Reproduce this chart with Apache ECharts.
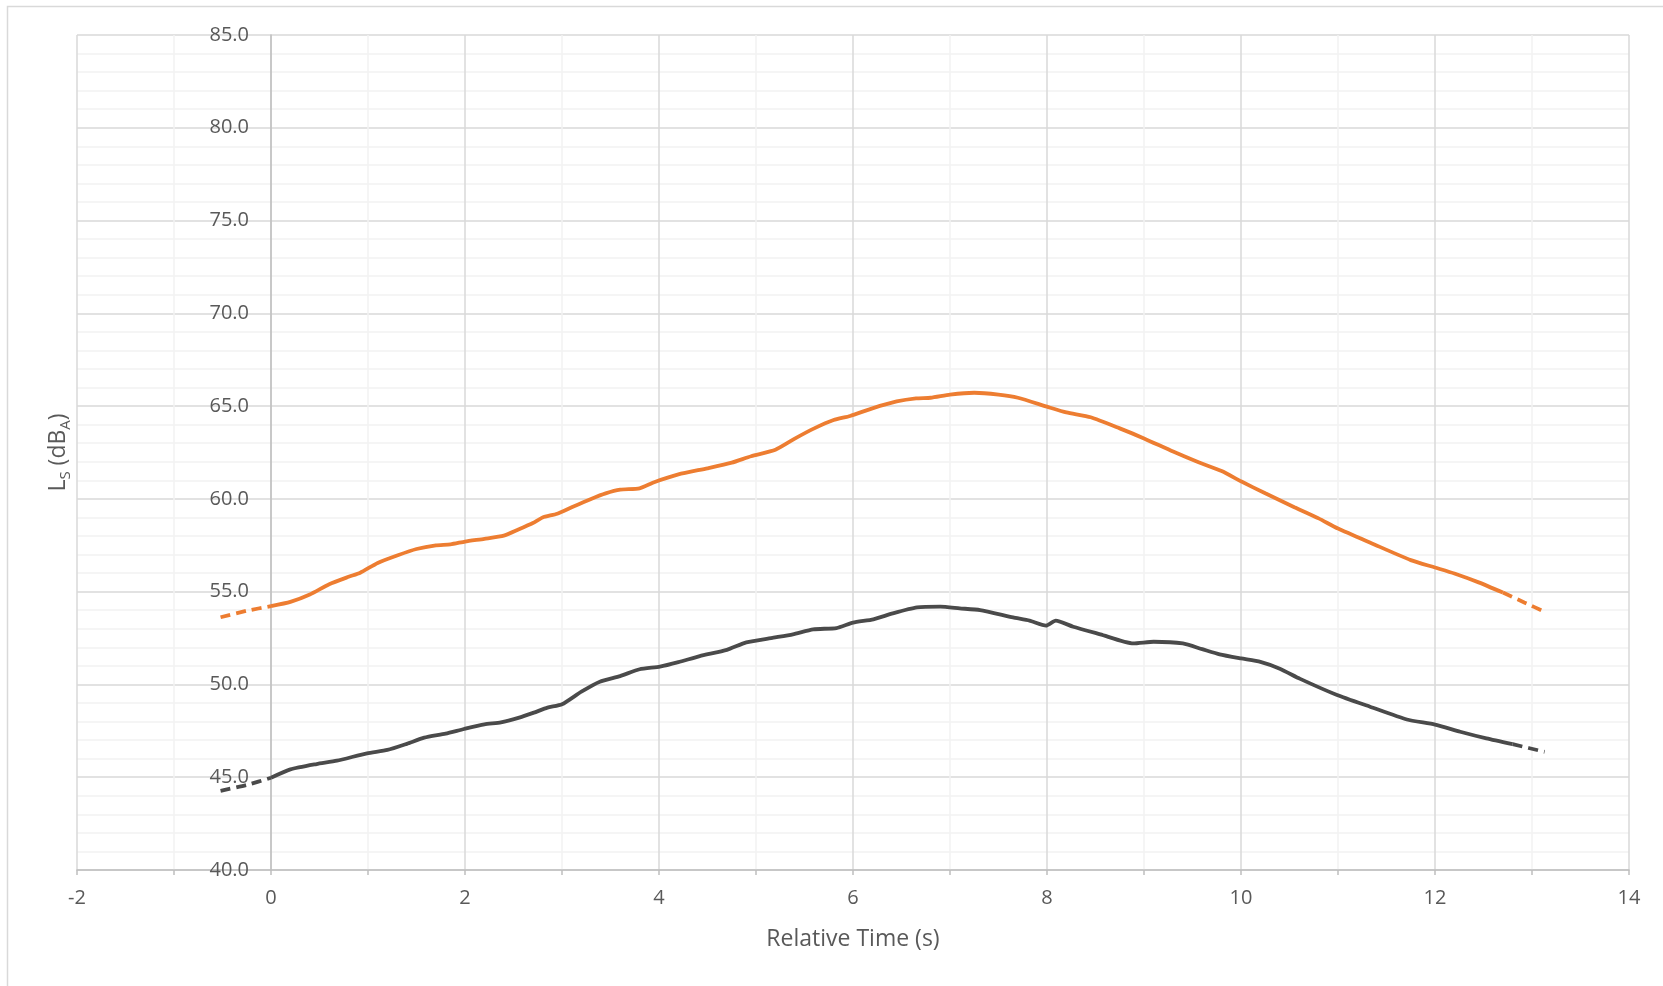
<!DOCTYPE html>
<html>
<head>
<meta charset="utf-8">
<title>Sound level vs relative time</title>
<script src="https://cdn.jsdelivr.net/npm/echarts@6/dist/echarts.min.js"></script>
<style>
  html, body { margin: 0; padding: 0; background: #ffffff; }
  #chart { width: 1663px; height: 986px; }
</style>
</head>
<body>
<div id="chart"></div>
<script>
// Upper (orange) level curve, measured part
const upperTime = [0.00, 0.20, 0.40, 0.60, 0.80, 0.92, 1.10, 1.30, 1.50, 1.70, 1.85, 2.00, 2.20, 2.40, 2.55, 2.70, 2.80, 2.95, 3.10, 3.30, 3.45, 3.60, 3.80, 3.95, 4.20, 4.50, 4.75, 4.95, 5.20, 5.40, 5.60, 5.80, 5.97, 6.20, 6.45, 6.65, 6.80, 7.00, 7.25, 7.50, 7.70, 8.00, 8.20, 8.45, 8.75, 9.00, 9.30, 9.55, 9.80, 10.00, 10.25, 10.55, 10.80, 11.00, 11.35, 11.75, 12.00, 12.20, 12.45, 12.70];
const upperLevel = [54.22, 54.45, 54.85, 55.40, 55.80, 56.02, 56.55, 56.95, 57.30, 57.50, 57.55, 57.70, 57.85, 58.02, 58.35, 58.70, 59.00, 59.20, 59.55, 60.00, 60.30, 60.50, 60.57, 60.90, 61.32, 61.65, 61.95, 62.30, 62.65, 63.25, 63.80, 64.25, 64.47, 64.88, 65.25, 65.42, 65.45, 65.62, 65.72, 65.62, 65.45, 64.97, 64.66, 64.40, 63.80, 63.26, 62.55, 62.00, 61.50, 60.95, 60.30, 59.55, 58.95, 58.40, 57.60, 56.70, 56.30, 55.98, 55.50, 54.95];
// Upper curve, extrapolated ends (null splits the two pieces)
const upperExtTime = [-0.52, -0.25, 0.00, null, 12.70, 12.92, 13.13];
const upperExtLevel = [53.62, 53.97, 54.22, null, 54.95, 54.42, 53.92];

// Lower (grey) level curve, measured part
const lowerTime = [0.00, 0.20, 0.47, 0.68, 0.99, 1.20, 1.40, 1.58, 1.80, 1.99, 2.20, 2.37, 2.55, 2.71, 2.85, 3.00, 3.20, 3.39, 3.60, 3.80, 4.01, 4.20, 4.42, 4.70, 4.90, 5.18, 5.38, 5.59, 5.83, 6.00, 6.21, 6.41, 6.66, 6.90, 7.10, 7.31, 7.65, 7.82, 7.99, 8.09, 8.27, 8.55, 8.89, 9.10, 9.40, 9.60, 9.78, 10.00, 10.20, 10.40, 10.61, 10.99, 11.33, 11.71, 12.00, 12.26, 12.53, 12.80];
const lowerLevel = [44.97, 45.42, 45.71, 45.89, 46.29, 46.47, 46.80, 47.13, 47.35, 47.60, 47.85, 47.96, 48.20, 48.48, 48.75, 48.93, 49.61, 50.15, 50.45, 50.82, 50.96, 51.20, 51.53, 51.86, 52.27, 52.52, 52.70, 52.97, 53.04, 53.33, 53.51, 53.83, 54.15, 54.19, 54.10, 54.01, 53.61, 53.44, 53.17, 53.44, 53.11, 52.70, 52.21, 52.30, 52.21, 51.90, 51.62, 51.40, 51.22, 50.85, 50.30, 49.43, 48.80, 48.11, 47.84, 47.45, 47.09, 46.78];
// Lower curve, extrapolated ends
const lowerExtTime = [-0.52, -0.25, 0.00, null, 12.80, 13.13];
const lowerExtLevel = [44.27, 44.58, 44.97, null, 46.78, 46.37];

// Axis ranges and titles
const xRange = { min: -2, max: 14, step: 2 };
const yRange = { min: 40, max: 85, step: 5 };
const xTitle = 'Relative Time (s)';
const yTitle = 'L{sub|S} (dB{sub|A})';

function pairs(xs, ys) {
  return xs.map((x, i) => (x === null ? [null, null] : [x, ys[i]]));
}

const FONT = '"Open Sans", "Liberation Sans", sans-serif';
const TEXT = '#595959';
const ORANGE = '#ED7D31';
const DARK = '#4a4a4a';
const LINE_W = 3.8;

const W = 1663;
const GRID = { left: 77, right: 34, top: 35, bottom: 116 };
// The vertical axis crosses the time axis at t = 0: shift it right from the plot's left edge.
const plotWidth = W - GRID.left - GRID.right;
const yAxisShift = (0 - xRange.min) / (xRange.max - xRange.min) * plotWidth;

const chart = echarts.init(document.getElementById('chart'), null, { renderer: 'canvas' });

chart.setOption({
  backgroundColor: '#ffffff',
  animation: false,
  textStyle: { fontFamily: FONT },
  graphic: [{
    type: 'polyline',
    silent: true,
    shape: { points: [[7.5, 990], [7.5, 6.5], [1670, 6.5]] },
    style: { stroke: '#d9d9d9', lineWidth: 1.5, fill: null }
  }],
  grid: Object.assign({ containLabel: false, outerBoundsMode: 'none' }, GRID),
  xAxis: {
    type: 'value',
    min: xRange.min,
    max: xRange.max,
    interval: xRange.step,
    name: xTitle,
    nameLocation: 'middle',
    nameGap: 58,
    nameTextStyle: { color: TEXT, fontSize: 23, fontFamily: FONT },
    axisLine: { show: true, onZero: false, lineStyle: { color: '#bfbfbf', width: 1.5 } },
    axisTick: { show: true, length: 5, lineStyle: { color: '#bfbfbf', width: 1.5 } },
    minorTick: { show: true, splitNumber: 2, length: 5, lineStyle: { color: '#bfbfbf', width: 1.5 } },
    axisLabel: { color: TEXT, fontSize: 20, fontFamily: FONT, margin: 18 },
    splitLine: { show: true, lineStyle: { color: '#d9d9d9', width: 1.5 } },
    minorSplitLine: { show: true, lineStyle: { color: '#f2f2f2', width: 1.5 } }
  },
  yAxis: {
    type: 'value',
    min: yRange.min,
    max: yRange.max,
    interval: yRange.step,
    offset: -yAxisShift,
    name: yTitle,
    nameLocation: 'middle',
    nameGap: 198,
    nameRotate: 90,
    nameTextStyle: {
      color: TEXT, fontSize: 23, fontFamily: FONT, lineHeight: 30,
      rich: { sub: { color: TEXT, fontSize: 15, fontFamily: FONT, lineHeight: 30, verticalAlign: 'bottom' } }
    },
    axisLine: { show: true, onZero: false, lineStyle: { color: '#bfbfbf', width: 1.5 } },
    axisTick: { show: false },
    minorTick: { show: false, splitNumber: 5 },
    axisLabel: {
      color: TEXT, fontSize: 20, fontFamily: FONT, margin: 22,
      formatter: v => v.toFixed(1)
    },
    splitLine: { show: true, lineStyle: { color: '#d9d9d9', width: 1.5 } },
    minorSplitLine: { show: true, lineStyle: { color: '#f2f2f2', width: 1.5 } }
  },
  series: [
    {
      name: 'upper',
      type: 'line',
      data: pairs(upperTime, upperLevel),
      showSymbol: false,
      smooth: 0.2,
      lineStyle: { color: ORANGE, width: LINE_W },
      z: 3
    },
    {
      name: 'upper-ext',
      type: 'line',
      data: pairs(upperExtTime, upperExtLevel),
      showSymbol: false,
      connectNulls: false,
      smooth: 0.2,
      lineStyle: { color: ORANGE, width: LINE_W, type: [10, 6] },
      z: 3
    },
    {
      name: 'lower',
      type: 'line',
      data: pairs(lowerTime, lowerLevel),
      showSymbol: false,
      smooth: 0.2,
      lineStyle: { color: DARK, width: LINE_W },
      z: 3
    },
    {
      name: 'lower-ext',
      type: 'line',
      data: pairs(lowerExtTime, lowerExtLevel),
      showSymbol: false,
      connectNulls: false,
      smooth: 0.2,
      lineStyle: { color: DARK, width: LINE_W, type: [10, 6] },
      z: 3
    }
  ]
});
</script>
</body>
</html>
